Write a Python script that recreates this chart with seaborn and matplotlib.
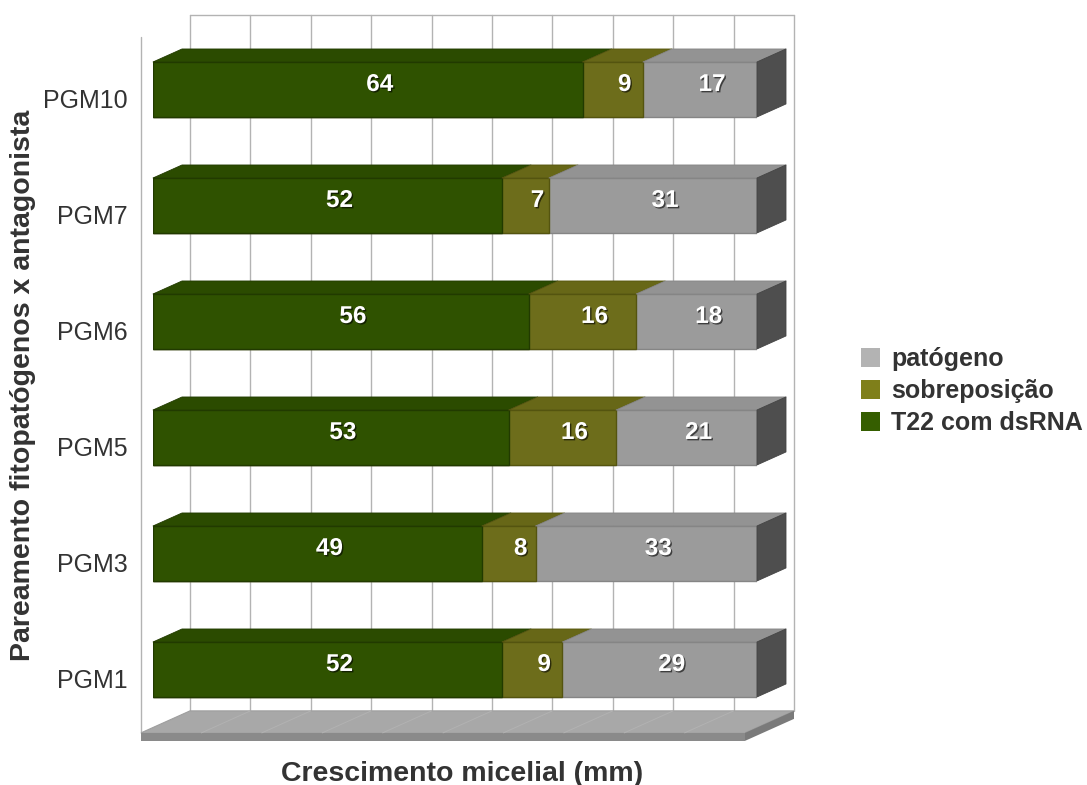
import matplotlib
matplotlib.use("Agg")
import matplotlib.pyplot as plt
import matplotlib.transforms as mtransforms
import matplotlib.patheffects as pe
from matplotlib.patches import Polygon, Patch
import numpy as np
import pandas as pd
import seaborn as sns

# ---- data -------------------------------------------------------------
amostras = ["PGM10", "PGM7", "PGM6", "PGM5", "PGM3", "PGM1"]
t22_dsrna = [64, 52, 56, 53, 49, 52]
sobreposicao = [9, 7, 16, 16, 8, 9]
patogeno = [17, 31, 18, 21, 33, 29]

# ---- colours ----------------------------------------------------------
cor_frente = ["#2f5200", "#6d6d1b", "#9b9b9b"]
cor_topo = ["#2b4b00", "#676717", "#939393"]
cor_borda = ["#213a00", "#54540f", "#858585"]
cor_lado = "#4e4e4e"
cor_legenda = {"patógeno": "#b3b3b3", "sobreposição": "#7f7f1a",
               "T22 com dsRNA": "#355e00"}
cor_texto = "#333333"
cor_grade = "#b3b3b3"

df = pd.DataFrame({"amostra": amostras, "t22": t22_dsrna,
                   "sob": sobreposicao, "pat": patogeno})
df["ate_sob"] = df["t22"] + df["sob"]
df["total"] = df["ate_sob"] + df["pat"]

sns.set_theme(style="white")
plt.rcParams["font.family"] = ["Liberation Sans", "DejaVu Sans"]

W, H, DPI = 1087, 785, 100
fig = plt.figure(figsize=(W / DPI, H / DPI), dpi=DPI)
fig.patch.set_facecolor("white")

# axes frame in pixels: left, top, right, bottom
L, T, R, B = 153, 15, 757, 740
ax = fig.add_axes([L / W, (H - B) / H, (R - L) / W, (B - T) / H])

n = len(amostras)
xmax = float(df["total"].max())
ylim = (5.608, -0.642)
bar_w = 0.474

# pixel -> data conversion for the oblique depth of the 3D look
sx = xmax / (R - L)
sy = (ylim[0] - ylim[1]) / (B - T)


def shift(dx_px, dy_px):
    return dx_px * sx, -dy_px * sy


FRONT = shift(-12, -5.4)   # front plane of the wall box
BACK = shift(37, 16.6)     # back wall
DEPTH = shift(29, 13)      # thickness of the bars
SLAB = 8 * sy              # floor slab thickness

# ---- back wall grid ---------------------------------------------------
y_top, y_floor = -0.5, n - 0.5
grade = np.linspace(0, xmax, 11)
for gx in grade:
    ax.plot([gx + BACK[0]] * 2, [y_top + BACK[1], y_floor + BACK[1]],
            color=cor_grade, lw=1, zorder=0.5, clip_on=False)
ax.plot([BACK[0], xmax + BACK[0]], [y_top + BACK[1]] * 2,
        color=cor_grade, lw=1, zorder=0.5, clip_on=False)
ax.plot([FRONT[0]] * 2, [y_top + FRONT[1], y_floor + FRONT[1]],
        color=cor_grade, lw=1, zorder=0.5, clip_on=False)

# ---- floor slab -------------------------------------------------------
fl, fr = (FRONT[0], y_floor + FRONT[1]), (xmax + FRONT[0], y_floor + FRONT[1])
bl, br = (BACK[0], y_floor + BACK[1]), (xmax + BACK[0], y_floor + BACK[1])
ax.add_patch(Polygon([fl, fr, br, bl], closed=True, facecolor="#a8a8a8",
                     edgecolor="#9e9e9e", lw=0.8, zorder=1, clip_on=False))
ax.add_patch(Polygon([fl, fr, (fr[0], fr[1] + SLAB), (fl[0], fl[1] + SLAB)],
                     closed=True, facecolor="#8a8a8a", edgecolor="none",
                     zorder=1, clip_on=False))
ax.add_patch(Polygon([fr, br, (br[0], br[1] + SLAB), (fr[0], fr[1] + SLAB)],
                     closed=True, facecolor="#7a7a7a", edgecolor="none",
                     zorder=1, clip_on=False))
for gx in grade[1:-1]:
    ax.plot([gx + FRONT[0], gx + BACK[0]], [fl[1], bl[1]],
            color="#b2b2b2", lw=0.7, zorder=1.1, clip_on=False)

# ---- front faces of the stacked bars ------------------------------------
for col, k in (("total", 2), ("ate_sob", 1), ("t22", 0)):
    sns.barplot(data=df, x=col, y="amostra", order=amostras, orient="h",
                color=cor_frente[k], saturation=1, width=bar_w,
                edgecolor=cor_borda[k], linewidth=1, ax=ax, zorder=2)

# ---- top and side faces ------------------------------------------------
segmentos = list(zip(df["t22"], df["sob"], df["pat"]))
for i, vals in enumerate(segmentos):
    yt = i - bar_w / 2
    yb = i + bar_w / 2
    inicio = 0.0
    for k, v in enumerate(vals):
        fim = inicio + v
        topo = [(inicio, yt), (fim, yt), (fim + DEPTH[0], yt + DEPTH[1]),
                (inicio + DEPTH[0], yt + DEPTH[1])]
        ax.add_patch(Polygon(topo, closed=True, facecolor=cor_topo[k],
                             edgecolor=cor_borda[k], lw=0.6,
                             joinstyle="round", zorder=3 + 0.1 * k,
                             clip_on=False))
        inicio = fim
    lado = [(inicio, yt), (inicio + DEPTH[0], yt + DEPTH[1]),
            (inicio + DEPTH[0], yb + DEPTH[1]), (inicio, yb)]
    ax.add_patch(Polygon(lado, closed=True, facecolor=cor_lado,
                         edgecolor="#444444", lw=0.6, joinstyle="round",
                         zorder=3.5, clip_on=False))

    # value labels
    inicio = 0.0
    for k, v in enumerate(vals):
        ax.annotate(f"{v}", xy=(inicio + v / 2, i), xytext=(12, 5),
                    textcoords="offset pixels", ha="center", va="center",
                    fontsize=17.5, fontweight="bold", color="white",
                    zorder=6,
                    path_effects=[pe.withSimplePatchShadow(
                        offset=(1, -1), shadow_rgbFace="black", alpha=0.6)])
        inicio += v

# ---- axes cosmetics ----------------------------------------------------
ax.set_xlim(0, xmax)
ax.set_ylim(*ylim)
ax.set_xticks([])
for s in ax.spines.values():
    s.set_visible(False)
ax.set_facecolor("none")
ax.tick_params(axis="y", length=0, pad=18, labelsize=18,
               labelcolor=cor_texto)
desloc = mtransforms.ScaledTranslation(0, -9.5 / DPI, fig.dpi_scale_trans)
for lab in ax.get_yticklabels():
    lab.set_transform(lab.get_transform() + desloc)

ax.set_xlabel("Crescimento micelial (mm)", fontsize=20.5,
              fontweight="bold", color=cor_texto)
ax.xaxis.set_label_coords((462 - L) / (R - L), (B - 761) / (B - T))
ax.set_ylabel("Pareamento fitopatógenos x antagonista", fontsize=20.5,
              fontweight="bold", color=cor_texto)
ax.yaxis.set_label_coords((36 - L) / (R - L), (B - 385) / (B - T))

# ---- legend ------------------------------------------------------------
ordem_leg = ["patógeno", "sobreposição", "T22 com dsRNA"]
alcas = [Patch(facecolor=cor_legenda[s], edgecolor="none") for s in ordem_leg]
fig.legend(alcas, ordem_leg, loc="center left",
           bbox_to_anchor=(861 / W, (H - 391) / H), frameon=False,
           prop={"weight": "bold", "size": 18}, labelcolor=cor_texto,
           handlelength=0.76, handleheight=0.76, handletextpad=0.44,
           labelspacing=0.32, borderpad=0, borderaxespad=0)

fig.savefig("out.png", dpi=DPI)
